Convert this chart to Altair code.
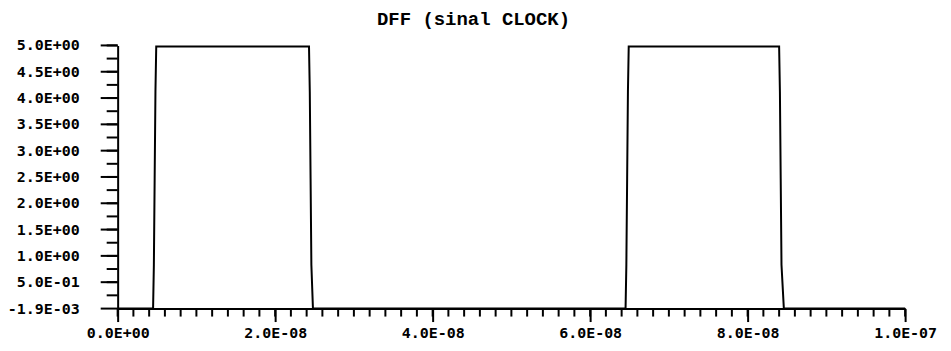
import altair as alt
import pandas as pd

# ---- data ----
t_ns = [0, 4.5, 4.6, 4.7, 4.8, 4.9, 24.3, 24.4, 24.5, 24.6, 24.8,
        64.5, 64.6, 64.7, 64.8, 64.9, 84.0, 84.1, 84.2, 84.3, 84.6, 100]
volts = [0, 0, 0.83, 2.47, 4.12, 4.98, 4.98, 4.12, 2.47, 0.83, 0,
         0, 0.83, 2.47, 4.12, 4.98, 4.98, 4.12, 2.47, 0.83, 0, 0]

x_tick_values = [0, 20, 40, 60, 80, 100]
x_tick_labels = ["0.0E+00", "2.0E-08", "4.0E-08", "6.0E-08", "8.0E-08", "1.0E-07"]
y_tick_values = [-0.0019, 0.5, 1.0, 1.5, 2.0, 2.5, 3.0, 3.5, 4.0, 4.5, 5.0]
y_tick_labels = ["-1.9E-03", "5.0E-01", "1.0E+00", "1.5E+00", "2.0E+00", "2.5E+00",
                 "3.0E+00", "3.5E+00", "4.0E+00", "4.5E+00", "5.0E+00"]
title_text = "DFF (sinal CLOCK)"

df = pd.DataFrame({"t": t_ns, "v": volts})
y_lab = pd.DataFrame({"v": y_tick_values, "lab": y_tick_labels})


def lookup_expr(vals, labels):
    v = ",".join(repr(x) for x in vals)
    l = ",".join("'" + s + "'" for s in labels)
    return f"[{l}][indexof([{v}], datum.value)]"


x_minor = pd.DataFrame({"t": [i * 2 for i in range(51)]})
y_minor = pd.DataFrame({"v": [i * 0.25 for i in range(1, 21)]})

FONT = "DejaVu Sans Mono"
FS = 15
W, H = 790, 264

xscale = alt.Scale(domain=[0, 100], nice=False, zero=False)
yscale = alt.Scale(domain=[-0.0019, 5.0], nice=False, zero=False)

x_axis = alt.Axis(orient="bottom", values=x_tick_values,
                  labelExpr=lookup_expr(x_tick_values, x_tick_labels),
                  tickSize=13, tickWidth=2, domainWidth=2,
                  domainColor="black", tickColor="black",
                  labelFont=FONT, labelFontSize=FS, labelFontWeight="bold",
                  labelColor="black", labelPadding=4, grid=False,
                  labelFlush=False, labelOverlap=False)
y_axis = alt.Axis(orient="left", values=y_tick_values, labels=False, ticks=False,
                  domainWidth=2, domainColor="black", grid=False)

line = alt.Chart(df).mark_line(color="black", strokeWidth=2, clip=False).encode(
    x=alt.X("t:Q", scale=xscale, title=None, axis=x_axis),
    y=alt.Y("v:Q", scale=yscale, title=None, axis=y_axis),
)

xminor = alt.Chart(x_minor).mark_rule(color="black", strokeWidth=2).encode(
    x=alt.X("t:Q", scale=xscale, title=None, axis=x_axis),
    y=alt.value(H),
    y2=alt.value(H + 8),
)

yminor = alt.Chart(y_minor).mark_rule(color="black", strokeWidth=2).encode(
    y=alt.Y("v:Q", scale=yscale, title=None, axis=y_axis),
    x=alt.value(0),
    x2=alt.value(-11),
)

ymajor = alt.Chart(y_lab).mark_rule(color="black", strokeWidth=2).encode(
    y=alt.Y("v:Q", scale=yscale, title=None, axis=y_axis),
    x=alt.value(0),
    x2=alt.value(-17),
)

ylabels = alt.Chart(y_lab).mark_text(
    align="right", baseline="middle", font=FONT, fontSize=FS,
    fontWeight="bold", color="black", dx=-38,
).encode(
    y=alt.Y("v:Q", scale=yscale, title=None, axis=y_axis),
    x=alt.value(0),
    text="lab:N",
)

chart = alt.layer(line, xminor, yminor, ymajor, ylabels).properties(
    width=W,
    height=H,
    autosize=alt.AutoSizeParams(type="none"),
    padding={"left": 110, "top": 37, "right": 38, "bottom": 44},
    background="white",
    title=alt.TitleParams(title_text, font="Liberation Mono", fontSize=19,
                          fontWeight="bold", color="black", anchor="middle",
                          dx=-38, offset=10),
).configure_view(stroke=None)

chart.save("out.html", embed_options={"renderer": "svg", "actions": False})
